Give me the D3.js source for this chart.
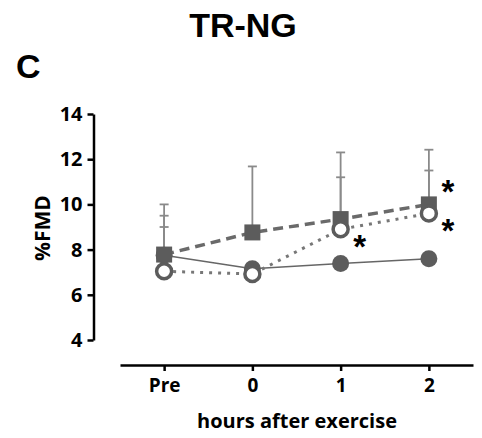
<!DOCTYPE html>
<html lang="en">
<head>
  <meta charset="UTF-8" />
  <title>TR-NG %FMD</title>
  <script src="https://d3js.org/d3.v7.min.js"></script>
  <style>
    html, body { margin: 0; padding: 0; background: #ffffff; }
    svg { display: block; }
    .axis-text { font-family: 'Open Sans', sans-serif; font-weight: 700; fill: #000; }
  </style>
</head>
<body>
<div id="chart"></div>
<script>
// data
const timepoints = ["Pre", "0", "1", "2"];
const yTicks = [4, 6, 8, 10, 12, 14];

// filled circles, solid thin line
const filledMean = [7.75, 7.15, 7.38, 7.6];
const filledUpper = [9.0, null, null, null];
// squares, dashed line
const squareMean = [7.78, 8.76, 9.35, 10.0];
const squareUpper = [10.0, 11.68, 12.3, 12.42];
// open circles, dotted line
const openMean = [7.04, 6.92, 8.9, 9.6];
const openUpper = [9.5, null, 11.2, 11.5];

// asterisks: [timepoint, y value]
const stars = [["1", 8.46], ["2", 10.9], ["2", 9.18]];

const W = 482, H = 438;
const svg = d3.select("#chart").append("svg")
  .attr("width", W).attr("height", H);

svg.append("rect").attr("width", W).attr("height", H).attr("fill", "#fff");

const x = d3.scalePoint().domain(timepoints).range([120, 473]).padding(0.5);
const y = d3.scaleLinear().domain([4, 14]).range([340, 114]);

// titles
svg.append("text")
  .attr("x", 243).attr("y", 37)
  .attr("text-anchor", "middle")
  .style("font-family", "Arial, 'Liberation Sans', sans-serif")
  .style("font-weight", "700").style("font-size", "34px")
  .text("TR-NG");

svg.append("text")
  .attr("x", 16).attr("y", 78)
  .style("font-family", "Arial, 'Liberation Sans', sans-serif")
  .style("font-weight", "700").style("font-size", "34px")
  .text("C");

// y axis
const yAxis = svg.append("g")
  .attr("transform", "translate(93.5,0)")
  .call(d3.axisLeft(y).tickValues(yTicks).tickSize(6).tickPadding(5).tickSizeOuter(0));
yAxis.select(".domain").attr("stroke", "#000").attr("stroke-width", 2.5);
yAxis.selectAll(".tick line").attr("stroke", "#000").attr("stroke-width", 2.5);
yAxis.selectAll(".tick text").attr("class", "axis-text").style("font-size", "20px");

// x axis
const xAxis = svg.append("g")
  .attr("transform", "translate(0,365)")
  .call(d3.axisBottom(x).tickSize(6).tickPadding(8).tickSizeOuter(0));
xAxis.select(".domain").attr("stroke", "#000").attr("stroke-width", 2.5);
xAxis.selectAll(".tick line").attr("stroke", "#000").attr("stroke-width", 2.5);
xAxis.selectAll(".tick text").attr("class", "axis-text").style("font-size", "19px");

// axis titles
svg.append("text")
  .attr("class", "axis-text")
  .attr("transform", "translate(50,228) rotate(-90)")
  .attr("text-anchor", "middle")
  .style("font-size", "21px")
  .text("%FMD");

svg.append("text")
  .attr("class", "axis-text")
  .attr("x", 297).attr("y", 428)
  .attr("text-anchor", "middle")
  .style("font-size", "20px")
  .text("hours after exercise");

// error bars (upper only)
const errColor = "#8a8a8a";
function errorBars(means, uppers) {
  const d = timepoints.map((t, i) => ({ t, m: means[i], u: uppers[i] })).filter(e => e.u != null);
  const g = svg.append("g");
  g.selectAll("line.v").data(d).enter().append("line")
    .attr("x1", e => x(e.t)).attr("x2", e => x(e.t))
    .attr("y1", e => y(e.m)).attr("y2", e => y(e.u))
    .attr("stroke", errColor).attr("stroke-width", 1.8);
  g.selectAll("line.c").data(d).enter().append("line")
    .attr("x1", e => x(e.t) - 4.5).attr("x2", e => x(e.t) + 4.5)
    .attr("y1", e => y(e.u)).attr("y2", e => y(e.u))
    .attr("stroke", errColor).attr("stroke-width", 1.8);
}
errorBars(squareMean, squareUpper);
errorBars(openMean, openUpper);
errorBars(filledMean, filledUpper);

const markColor = "#5c5c5c";
const line = d3.line().x((d, i) => x(timepoints[i])).y(d => y(d));

svg.append("path").datum(filledMean).attr("d", line)
  .attr("fill", "none").attr("stroke", "#666").attr("stroke-width", 1.5);
svg.append("path").datum(squareMean).attr("d", line)
  .attr("fill", "none").attr("stroke", "#6a6a6a").attr("stroke-width", 3.5)
  .attr("stroke-dasharray", "10,6");
svg.append("path").datum(openMean).attr("d", line)
  .attr("fill", "none").attr("stroke", "#777").attr("stroke-width", 3)
  .attr("stroke-dasharray", "3,6");

// markers: filled circles, squares, open circles on top
svg.append("g").selectAll("circle").data(filledMean).enter().append("circle")
  .attr("cx", (d, i) => x(timepoints[i])).attr("cy", d => y(d))
  .attr("r", 8.5).attr("fill", markColor);

const sq = 16;
svg.append("g").selectAll("rect").data(squareMean).enter().append("rect")
  .attr("x", (d, i) => x(timepoints[i]) - sq / 2).attr("y", d => y(d) - sq / 2)
  .attr("width", sq).attr("height", sq).attr("fill", markColor);

svg.append("g").selectAll("circle").data(openMean).enter().append("circle")
  .attr("cx", (d, i) => x(timepoints[i])).attr("cy", d => y(d))
  .attr("r", 7.5).attr("fill", "#fff").attr("stroke", markColor).attr("stroke-width", 3.5);

// significance asterisks
const starSize = 33;
svg.append("g").selectAll("text").data(stars).enter().append("text")
  .attr("x", d => x(d[0]) + 19).attr("y", d => y(d[1]) + starSize * 0.58)
  .attr("text-anchor", "middle")
  .style("font-family", "Arial, 'Liberation Sans', sans-serif")
  .style("font-weight", "700")
  .style("font-size", starSize + "px")
  .text("*");
</script>
</body>
</html>
